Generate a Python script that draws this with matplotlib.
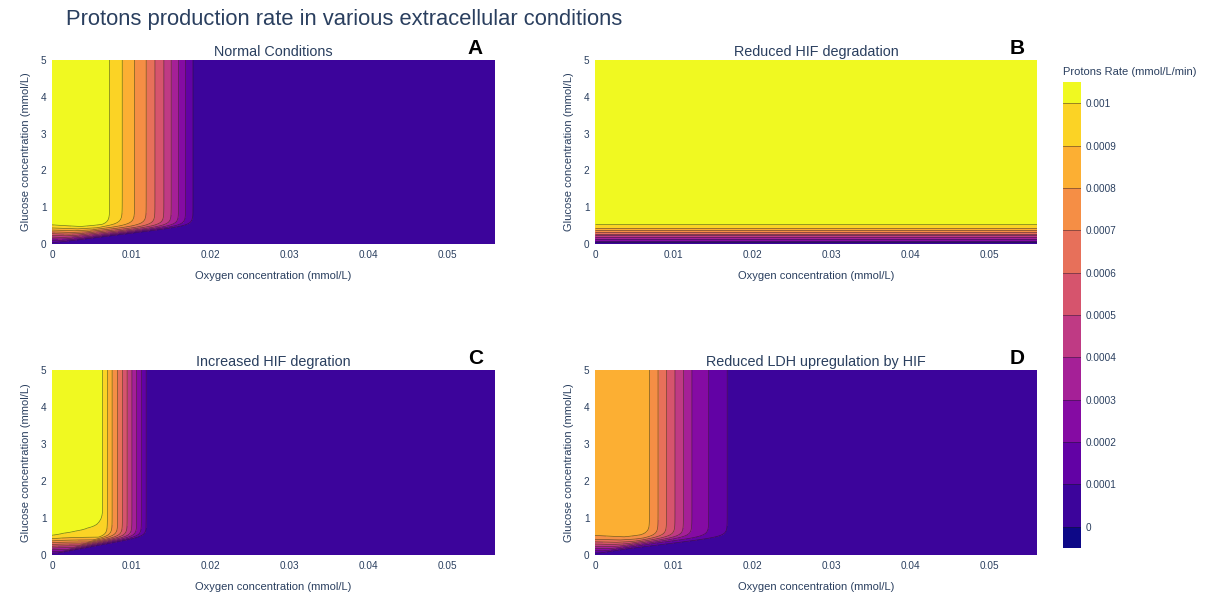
import matplotlib
matplotlib.use("Agg")
import matplotlib.pyplot as plt
import numpy as np
from matplotlib.colors import ListedColormap, BoundaryNorm, to_rgb, to_hex
from matplotlib.cm import ScalarMappable

plt.rcParams['font.family'] = ['Liberation Sans', 'DejaVu Sans']

# contour levels / colorbar ticks
rate_levels = [0, 0.0001, 0.0002, 0.0003, 0.0004, 0.0005, 0.0006, 0.0007, 0.0008, 0.0009, 0.001]
rate_labels = ['0', '0.0001', '0.0002', '0.0003', '0.0004', '0.0005', '0.0006', '0.0007', '0.0008', '0.0009', '0.001']

titles = ['Normal Conditions', 'Reduced HIF degradation', 'Increased HIF degration',
          'Reduced LDH upregulation by HIF']
letters = ['A', 'B', 'C', 'D']

# rate at saturating glucose vs oxygen
oxygen_A = [0, 0.004, 0.0066, 0.00728, 0.00888, 0.01044, 0.01191, 0.01301, 0.01414,
            0.01507, 0.01599, 0.01688, 0.0178, 0.0190, 0.056]
rate_A = [0.00107, 0.00112, 0.00106, 0.0010, 0.0009, 0.0008, 0.0007, 0.0006, 0.0005,
          0.0004, 0.0003, 0.0002, 0.0001, 0.00005, 0.00005]

oxygen_B = [0, 0.056]
rate_B = [0.00106, 0.00106]

oxygen_C = [0, 0.0015, 0.003, 0.0045, 0.006, 0.00644, 0.0070, 0.0076, 0.0083, 0.0089,
            0.0095, 0.0101, 0.0107, 0.0113, 0.0119, 0.0128, 0.056]
rate_C = [0.00106, 0.00103, 0.001015, 0.001006, 0.001001, 0.0010, 0.0009, 0.0008, 0.0007,
          0.0006, 0.0005, 0.0004, 0.0003, 0.0002, 0.0001, 0.00005, 0.00005]

oxygen_D = [0, 0.004, 0.0060, 0.00692, 0.00799, 0.00906, 0.01013, 0.0112, 0.01226,
            0.0144, 0.01675, 0.0180, 0.056]
rate_D = [0.00085, 0.00088, 0.00084, 0.0008, 0.0007, 0.0006, 0.0005, 0.0004, 0.0003,
          0.0002, 0.0001, 0.00005, 0.00005]

profiles = [(oxygen_A, rate_A), (oxygen_B, rate_B), (oxygen_C, rate_C), (oxygen_D, rate_D)]

# glucose limitation: ~linear up to ~0.5 mmol/L then saturated
glucose_half = 0.5
glucose_sharp = 8
# oxygen threshold shrinks at low glucose
shift_half = 0.5
shift_sharp = 10

# plotly plasma, resampled to 12 bands
plasma = ['#0d0887', '#46039f', '#7201a8', '#9c179e', '#bd3786', '#d8576b',
          '#ed7953', '#fb9f3a', '#fdca26', '#f0f921']
pos = np.linspace(0, 1, len(plasma))
rgb = np.array([to_rgb(c) for c in plasma])
band_colors = [to_hex([np.interp(t, pos, rgb[:, k]) for k in range(3)])
               for t in np.linspace(0, 1, 12)]

text_col = '#2a3f5f'

o2 = np.linspace(0, 0.056, 500)
glc = np.linspace(0, 5, 500)
O2, G = np.meshgrid(o2, glc)
u = G / glucose_half
g_lim = u / (1 + u ** glucose_sharp) ** (1 / glucose_sharp)
v = G / shift_half
s_lim = np.maximum(v / (1 + v ** shift_sharp) ** (1 / shift_sharp), 1e-6)

fig = plt.figure(figsize=(12.1, 6.01), dpi=100)

W, H = 1210, 601
boxes = [(52, 60, 495, 244), (595, 60, 1037, 244), (52, 370, 495, 555), (595, 370, 1037, 555)]

fill_levels = [-1] + rate_levels + [1]

for i, (x0, y0, x1, y1) in enumerate(boxes):
    ax = fig.add_axes([x0 / W, 1 - y1 / H, (x1 - x0) / W, (y1 - y0) / H])
    ox, rt = profiles[i]
    z = np.interp(O2 / s_lim, ox, rt) * g_lim
    z = np.maximum(z, 1e-8)
    ax.contourf(O2, G, z, levels=fill_levels, colors=band_colors)
    ax.contour(O2, G, z, levels=rate_levels[1:], colors='#1a1a1a', linewidths=0.5, alpha=0.6)
    ax.set_xlim(0, 0.056)
    ax.set_ylim(0, 5)
    ax.set_xticks([0, 0.01, 0.02, 0.03, 0.04, 0.05])
    ax.set_xticklabels(['0', '0.01', '0.02', '0.03', '0.04', '0.05'])
    ax.set_yticks([0, 1, 2, 3, 4, 5])
    ax.tick_params(length=0, labelsize=7.2, labelcolor=text_col, pad=4)
    for s in ax.spines.values():
        s.set_visible(False)
    ax.set_xlabel('Oxygen concentration (mmol/L)', fontsize=8, color=text_col, labelpad=8)
    ax.set_ylabel('Glucose concentration (mmol/L)', fontsize=8, color=text_col, labelpad=7)
    ax.set_title(titles[i], fontsize=10.4, color=text_col, pad=3)
    fig.text((x1 - 12) / W, 1 - (y0 - 11) / H, letters[i], fontsize=15, fontweight='bold',
             color='black', ha='right', va='center')

fig.text(66 / W, 1 - 20 / H, 'Protons production rate in various extracellular conditions',
         fontsize=15.8, color=text_col, ha='left', va='center')

# colorbar
cax = fig.add_axes([1063 / W, 1 - 548 / H, 18 / W, (548 - 82) / H])
bounds = [-0.00005] + rate_levels + [0.00105]
sm = ScalarMappable(norm=BoundaryNorm(bounds, 12), cmap=ListedColormap(band_colors))
cb = fig.colorbar(sm, cax=cax, ticks=rate_levels, spacing='proportional')
cb.set_ticklabels(rate_labels)
cb.outline.set_visible(False)
cax.minorticks_off()
cax.tick_params(which='both', length=0, labelsize=7.2, labelcolor=text_col, pad=3)
for lv in rate_levels:
    cax.axhline(lv, color='#1a1a1a', lw=0.6, alpha=0.5)
fig.text(1063 / W, 1 - 72 / H, 'Protons Rate (mmol/L/min)', fontsize=8, color=text_col,
         ha='left', va='center')

fig.savefig('out.png', dpi=100)
